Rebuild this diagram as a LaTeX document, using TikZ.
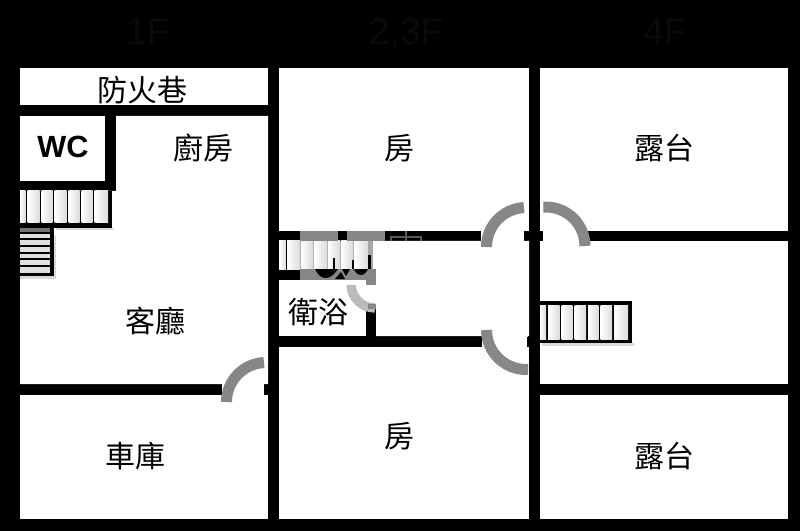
\documentclass[tikz,border=0pt]{standalone}
\usepackage{fontspec}
\newfontfamily\cjk{Noto Sans CJK TC}
\setsansfont{Liberation Sans}
\usepackage{tikz}

\tikzset{
  room/.style={fill=white},
  door/.style={draw=black!47, line width=8.25pt},
  tread/.style={left color=white, right color=black!14},
  riser/.style={line width=1pt},
  logomark/.style={fill=black!47},
  stairshadow/.style={fill=black!15},
  lbl/.style={font=\cjk\fontsize{22.5}{24}\selectfont, text=black, inner sep=0pt},
  floorname/.style={font=\sffamily\fontsize{28}{30}\selectfont, text=black!96, inner sep=0pt, anchor=base}
}

\begin{document}
\begin{tikzpicture}[x=0.75pt, y=-0.75pt]
  \fill[black] (0,0) rectangle (800,531);
  \useasboundingbox (0,0) rectangle (800,531);

  % 1F
  \fill[room] (20,68) rectangle (268,105);
  \fill[room] (20,116) rectangle (105,181);
  \fill[room] (116,116) -- (268,116) -- (268,384) -- (20,384) -- (20,191) -- (116,191) -- cycle;
  \fill[room] (20,395) rectangle (268,519);
  \fill[room] (222,384) rectangle (264,395);

  % 2,3F
  \fill[room] (279,68) rectangle (529,231);
  \fill[room] (373,241) -- (529,241) -- (529,336) -- (376,336) -- (376,269) -- (373,269) -- cycle;
  \fill[room] (279,280) rectangle (366,336);
  \fill[room] (366,285) rectangle (376,308);
  \fill[room] (279,347) rectangle (529,519);
  \fill[room] (481,231) rectangle (524,241);
  \fill[room] (482,336) rectangle (528,347);

  % 4F
  \fill[room] (540,68) rectangle (788,231);
  \fill[room] (540,241) rectangle (788,384);
  \fill[room] (540,395) rectangle (788,519);
  \fill[room] (543,231) rectangle (588,241);

  % stairs 1F
  \fill[stairshadow] (54,236) rectangle (56,279);
  \fill[stairshadow] (20,276) rectangle (56,279);
  \fill[stairshadow] (56,228) rectangle (114,230);
  \fill[black] (20,191) rectangle (112,228);
  \fill[black] (20,228) rectangle (54,276);
  \foreach \xa/\xb in {20/25.5,27.5/39.5,41.5/52.5,54.5/66.5,68.5/79.5,81.5/92.5,94.5/108}
    \shade[tread] (\xa,191) rectangle (\xb,223);
  \fill[black!55] (20,228) rectangle (50,232);
  \fill[black!12] (20,232) rectangle (50,273);
  \foreach \y in {233,239,246,253,259,266}
    \draw[riser] (20,\y) -- (50,\y);

  % stairs 2,3F
  \foreach \xa/\xb in {279/286,287/300,301/313,314/327,328/340,341/353,354/368}
    \shade[tread] (\xa,241) rectangle (\xb,269);
  \draw[riser] (286.5,241) -- (286.5,269);
  \foreach \x in {300,313,327,340,353}
    \draw[riser, black!30] (\x.5,241) -- (\x.5,269);
  \fill[logomark] (300,231) rectangle (338,241);
  \fill[logomark] (347,231) rectangle (385,241);
  \fill[logomark] (300,269) rectangle (376,280);
  \fill[logomark] (366,280) rectangle (376,285);
  \fill[black!35] (368,241) rectangle (373,269);
  \fill[black] (368,255) rectangle (371,269);
  \fill[black] (315,269) .. controls (320,280) and (328,280) .. (334,274) -- (338,269) -- cycle;
  \fill[black] (342,269) -- (350,269) -- (346,276) -- cycle;
  \fill[black] (354,269) .. controls (356,276) and (364,278) .. (368,269) -- cycle;
  \fill[black] (335,279) -- (341,272) -- (345,279) -- cycle;
  \fill[black] (333,258) rectangle (335,269);
  \fill[black] (352,260) rectangle (354,269);
  \draw[black!65, line width=0.8pt] (391,241) -- (391,237) -- (421,237) -- (421,241) (406,231) -- (406,241);

  % stairs 4F
  \fill[stairshadow] (542,343) rectangle (634,346);
  \fill[black] (527,337) rectangle (540,347);
  \fill[black] (540,301) rectangle (632,343);
  \foreach \xa/\xb in {540/546,548/559.5,561.5/572.5,574.5/586,588/598.5,600.5/612,614/628}
    \shade[tread] (\xa,305) rectangle (\xb,339);

  % doors
  \draw[door] ([shift={(526,247)}]180:39.5) arc[start angle=180, end angle=267, radius=39.5];
  \draw[door] ([shift={(546,246)}]266:39) arc[start angle=266, end angle=360, radius=39];
  \draw[door] ([shift={(526,330)}]180:39.5) arc[start angle=180, end angle=87, radius=39.5];
  \draw[door] ([shift={(266,402)}]180:39.5) arc[start angle=180, end angle=267, radius=39.5];
  \begin{scope}
    \clip (340,285) rectangle (376,312);
    \draw[door, draw=black!27, line width=7pt] ([shift={(375,284)}]180:24) arc[start angle=180, end angle=90, radius=24];
  \end{scope}
  \fill[black!47] (368,304) rectangle (376,309);

  % labels
  \node[floorname] (floor1) at (148,45) {1F};
  \node[floorname] (floor2) at (406,45) {2,3F};
  \node[floorname] (floor4) at (665,45) {4F};
  \node[lbl] (lane) at (142,90) {防火巷};
  \node[font=\sffamily\bfseries\fontsize{23}{25}\selectfont, inner sep=0pt] (wc) at (63,147) {WC};
  \node[lbl] (kitchen) at (203,148) {廚房};
  \node[lbl] (living) at (155,321) {客廳};
  \node[lbl] (garage) at (135,456) {車庫};
  \node[lbl] (room2) at (399,148) {房};
  \node[lbl] (bath) at (318,312) {衛浴};
  \node[lbl] (room3) at (399,436) {房};
  \node[lbl] (terrace1) at (664,148) {露台};
  \node[lbl] (terrace2) at (664,456) {露台};
\end{tikzpicture}
\end{document}
